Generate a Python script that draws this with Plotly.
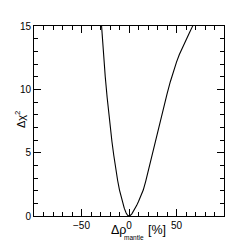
import plotly.graph_objects as go

# Δρ_mantle [%] and Δχ² values
rho = [-31, -29, -27, -25, -23, -20.7, -18, -16, -14, -12, -10, -8, -6.7, -5, -3, -1.5, 0,
       1.5, 3, 5, 6.7, 8, 10, 12.5, 15, 17.5, 20.7, 24, 27, 30, 33, 36.5, 40, 43.5, 46.7,
       50, 53, 56.7, 60, 63.5, 66.7, 70]
dchi2 = [17.2, 15, 12.9, 11.0, 9.35, 7.6, 5.9, 4.78, 3.72, 2.82, 2.05, 1.45, 1.1, 0.62, 0.24,
         0.06, 0, 0.05, 0.17, 0.4, 0.62, 0.82, 1.14, 1.55, 2.05, 2.72, 3.72, 4.78, 5.72, 6.67,
         7.6, 8.62, 9.62, 10.6, 11.47, 12.15, 12.75, 13.4, 13.92, 14.45, 14.95, 15.45]

x_ticks = [-50, 0, 50]
x_tick_labels = ["\u221250", "0", "50"]
y_ticks = [0, 5, 10, 15]

FAM = "Liberation Sans, Arial, sans-serif"
font = dict(family=FAM, size=10, color="black")

fig = go.Figure()
fig.add_trace(go.Scatter(x=rho, y=dchi2, mode="lines", line=dict(color="black", width=1.1),
                         hoverinfo="skip", showlegend=False))

axis_common = dict(
    showgrid=False, zeroline=False, showline=True, linecolor="black", linewidth=1,
    mirror="ticks", ticks="inside", ticklen=7, tickcolor="black", tickwidth=1,
    tickfont=font,
)
fig.update_xaxes(range=[-100, 100], tickvals=x_ticks, ticktext=x_tick_labels,
                 minor=dict(dtick=10, tick0=0, ticks="inside", ticklen=4, tickcolor="black"),
                 **axis_common)
fig.update_yaxes(range=[0, 15], tickvals=y_ticks,
                 minor=dict(dtick=1, tick0=0, ticks="inside", ticklen=4, tickcolor="black"),
                 **axis_common)

# x-axis title pieces: Δρ, subscript "mantle", "[%]"
fig.add_annotation(text="\u0394\u03c1", xref="paper", yref="paper",
                   x=0, y=0, xanchor="center", yanchor="middle", xshift=84, yshift=-14,
                   showarrow=False, font=dict(family=FAM, size=12.5, color="black"))
fig.add_annotation(text="mantle", xref="paper", yref="paper",
                   x=0, y=0, xanchor="center", yanchor="middle", xshift=100, yshift=-21.5,
                   showarrow=False, font=dict(family=FAM, size=6.5, color="black"))
fig.add_annotation(text="[%]", xref="paper", yref="paper",
                   x=0, y=0, xanchor="center", yanchor="middle", xshift=122.5, yshift=-14,
                   showarrow=False, font=dict(family=FAM, size=12.5, color="black"))
# y-axis title
fig.add_annotation(text="\u0394\u03c7<sup>2</sup>", xref="paper", yref="paper",
                   x=0, y=0.505, xanchor="center", yanchor="middle", xshift=-14,
                   textangle=-90, showarrow=False,
                   font=dict(family=FAM, size=11, color="black"))

# the page body has an 8px margin, so the figure is 8px smaller and offset by it
fig.update_layout(width=241, height=235, margin=dict(l=17, r=25, t=16, b=25),
                  plot_bgcolor="white", paper_bgcolor="white", font=font)

fig.write_html("out.html")
